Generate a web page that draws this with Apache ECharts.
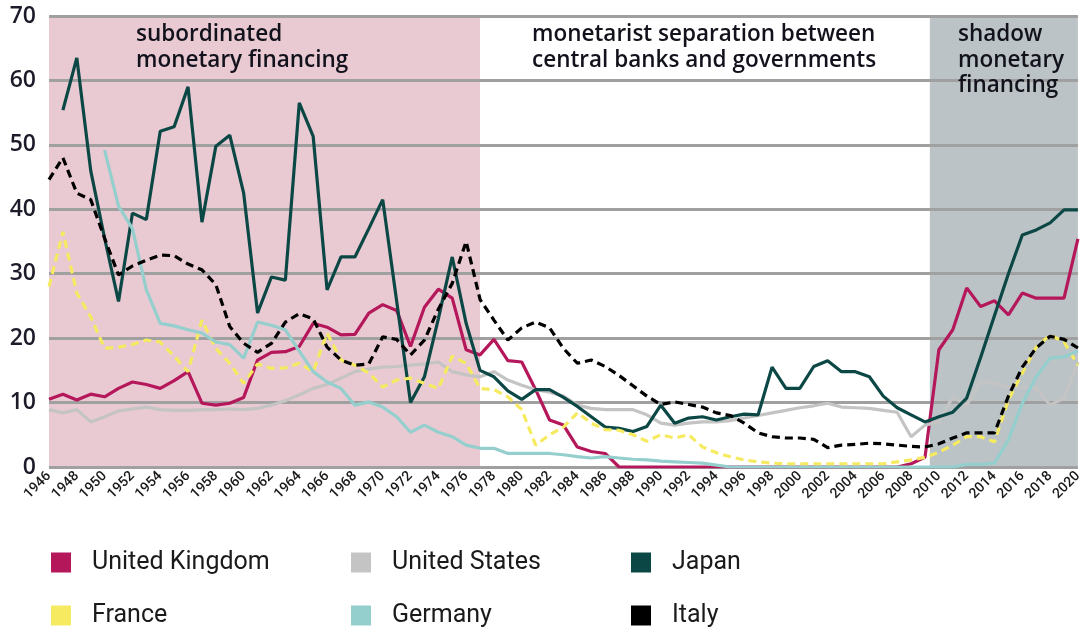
<!DOCTYPE html>
<html><head><meta charset="utf-8">
<script src="https://cdn.jsdelivr.net/npm/echarts@6/dist/echarts.min.js"></script>
<style>html,body{margin:0;padding:0;background:#fff}#c{width:1085px;height:630px}</style>
</head><body><div id="c"></div>
<script>
const years = [1946,1947,1948,1949,1950,1951,1952,1953,1954,1955,1956,1957,1958,1959,1960,1961,1962,1963,1964,1965,1966,1967,1968,1969,1970,1971,1972,1973,1974,1975,1976,1977,1978,1979,1980,1981,1982,1983,1984,1985,1986,1987,1988,1989,1990,1991,1992,1993,1994,1995,1996,1997,1998,1999,2000,2001,2002,2003,2004,2005,2006,2007,2008,2009,2010,2011,2012,2013,2014,2015,2016,2017,2018,2019,2020];

const unitedKingdom = [10.5,11.3,10.4,11.3,10.9,12.2,13.2,12.8,12.2,13.4,14.8,9.9,9.6,9.9,10.8,16.6,17.8,17.9,18.7,22.3,21.7,20.5,20.6,23.9,25.2,24.3,18.7,24.8,27.6,26.2,18.2,17.4,19.8,16.5,16.3,12.0,7.3,6.5,3.1,2.4,2.1,0,0,0,0,0,0,0,0,0,0,0,0,0,0,0,0,0,0,0,0,0,0.5,1.5,18.2,21.3,27.8,24.9,25.8,23.6,27.0,26.2,26.2,26.2,35.4];

const unitedStates = [8.9,8.4,8.9,7.0,7.8,8.7,9.0,9.3,8.9,8.8,8.8,8.9,8.9,9.0,8.9,9.1,9.6,10.3,11.2,12.2,12.8,13.8,14.8,15.2,15.5,15.6,15.8,16.0,16.3,14.8,14.3,14.0,14.8,13.5,12.7,12.0,11.6,11.0,9.6,9.1,8.9,8.9,8.9,8.1,6.8,6.5,6.8,7.0,7.0,7.2,7.6,8.0,8.4,8.8,9.2,9.5,9.9,9.3,9.2,9.1,8.8,8.5,4.7,6.5,7.0,10.9,9.6,13.3,13.0,12.4,12.4,12.2,9.6,10.7,16.3];

const japan = [null,55.4,63.5,46.0,35.5,25.7,39.4,38.4,52.1,52.8,59.0,38.0,49.8,51.5,42.5,23.9,29.5,29.0,56.5,51.3,27.5,32.6,32.6,37.0,41.5,25.8,10.0,14.0,23.0,32.6,22.3,15.0,14.0,11.8,10.5,12.0,12.0,10.8,9.4,7.8,6.2,6.0,5.5,6.3,9.6,6.8,7.6,7.8,7.3,7.8,8.2,8.1,15.5,12.2,12.2,15.6,16.5,14.8,14.8,14.0,11.0,9.2,8.1,7.0,7.8,8.5,10.7,17.0,23.5,30.0,36.0,36.8,37.9,39.9,39.9];

const france = [28.0,36.5,27.0,23.3,18.4,18.6,19.0,19.7,19.4,17.2,14.8,22.8,18.4,16.1,13.0,16.0,15.3,15.4,16.1,14.8,20.8,16.6,15.8,14.6,12.4,13.5,13.8,13.0,12.2,17.2,16.1,12.2,12.0,10.9,8.9,3.4,5.0,6.2,8.4,6.8,5.8,5.7,5.0,4.0,5.0,4.5,5.0,3.1,2.2,1.6,1.1,0.8,0.6,0.5,0.5,0.5,0.5,0.5,0.5,0.5,0.5,0.8,1.1,1.5,2.3,3.4,4.7,4.7,3.9,10.4,14.6,18.6,20.5,19.4,15.8];

const germany = [null,null,null,null,49.2,40.5,37.0,27.5,22.3,21.9,21.3,20.8,19.4,19.0,16.9,22.5,22.0,21.3,18.0,14.8,13.2,12.2,9.6,10.1,9.3,7.8,5.4,6.5,5.4,4.7,3.4,2.9,2.9,2.1,2.1,2.1,2.1,1.9,1.6,1.4,1.6,1.4,1.2,1.1,0.9,0.8,0.7,0.6,0.3,0,0,0,0,0,0,0,0,0,0,0,0,0,0,0,0,0,0.4,0.4,0.6,4.2,9.9,14.0,16.9,17.1,18.0];

const italy = [44.6,48.0,42.5,41.5,35.5,29.8,31.2,32.1,32.9,32.8,31.5,30.6,28.3,21.8,19.2,17.8,19.2,22.5,23.8,23.0,18.6,16.6,15.8,16.0,20.2,19.8,17.4,19.7,24.5,28.5,35.0,26.0,22.8,19.7,21.6,22.5,21.6,18.4,16.1,16.6,15.6,14.2,12.6,11.0,9.7,10.1,9.7,9.3,8.4,8.0,6.8,5.3,4.7,4.5,4.5,4.3,3.0,3.4,3.5,3.7,3.6,3.4,3.2,3.1,3.6,4.5,5.3,5.3,5.3,11.0,15.5,18.5,20.3,19.8,18.5];

const seriesNames = ['United Kingdom','United States','Japan','France','Germany','Italy'];
const seriesValues = [unitedKingdom, unitedStates, japan, france, germany, italy];

const regionStart = [1946, 2009.35];
const regionEnd = [1977, 2020];
const regionTop = 70;

const regionTexts = ['subordinated\nmonetary financing','monetarist separation between\ncentral banks and governments','shadow\nmonetary\nfinancing'];

const colors = ['#b5175b','#c4c4c4','#0b4845','#f5ea60','#94cfce','#000000'];
const dashed = [false,false,false,true,false,true];
const regionColors = ['#e9c9d2','#bcc3c6'];

const chart = echarts.init(document.getElementById('c'), null, {renderer:'canvas'});

const lineSeries = seriesNames.map((n,i)=>({
  name:n, type:'line', z:3, symbol:'none', smooth:false, connectNulls:false,
  color: colors[i],
  itemStyle:{color:colors[i]},
  lineStyle:{color:colors[i], width:3.2, type: dashed[i] ? [8,5] : 'solid'},
  data: years.map((y,k)=>[y, seriesValues[i][k]])
}));

const legendLeft = [46,346,626];
const legendTop = [545,598];
const textLeft = [136,532,958];
const annFont = '600 22.5px "Open Sans"';

const option = {
  animation:false,
  backgroundColor:'#ffffff',
  grid:{left:49, right:3, top:16, bottom:163},
  xAxis:{
    type:'value', min:1946, max:2020, interval:2, z:1,
    axisLine:{show:false}, axisTick:{show:false}, splitLine:{show:false},
    axisLabel:{rotate:45, margin:7, fontSize:14, fontFamily:'Roboto', fontWeight:500, color:'#1a1a1a',
      formatter:v=>String(v)}
  },
  yAxis:{
    type:'value', min:0, max:70, interval:10, z:1,
    axisLine:{show:false}, axisTick:{show:false},
    splitLine:{show:true, lineStyle:{color:'#a0a0a0', width:3}},
    axisLabel:{margin:13, fontSize:23, fontFamily:'Open Sans', fontWeight:600, color:'#1b1b2a'}
  },
  legend: seriesNames.map((n,i)=>({
    data:[n], left:legendLeft[i%3], top:legendTop[Math.floor(i/3)],
    icon:'rect', itemWidth:20, itemHeight:20, itemGap:0, selectedMode:false,
    textStyle:{fontSize:25, fontFamily:'Roboto', color:'#1a1a1a', padding:[0,0,0,16]}
  })),
  graphic: regionTexts.map((t,i)=>({
    type:'text', z:100, left:textLeft[i], top:22,
    style:{text:t, font:annFont, fill:'#12121c', lineHeight:25.5}
  })),
  series:[
    {
      type:'custom', z:0, silent:true,
      data: regionStart.map((s,i)=>[s, regionEnd[i], i]),
      encode:{x:[0,1]},
      renderItem:(params, api)=>{
        const p0 = api.coord([api.value(0), regionTop]);
        const p1 = api.coord([api.value(1), 0]);
        return {type:'rect', shape:{x:p0[0], y:p0[1], width:p1[0]-p0[0], height:p1[1]-p0[1]},
          style:{fill: regionColors[api.value(2)]}};
      }
    },
    ...lineSeries
  ]
};
chart.setOption(option);
</script>
</body></html>
